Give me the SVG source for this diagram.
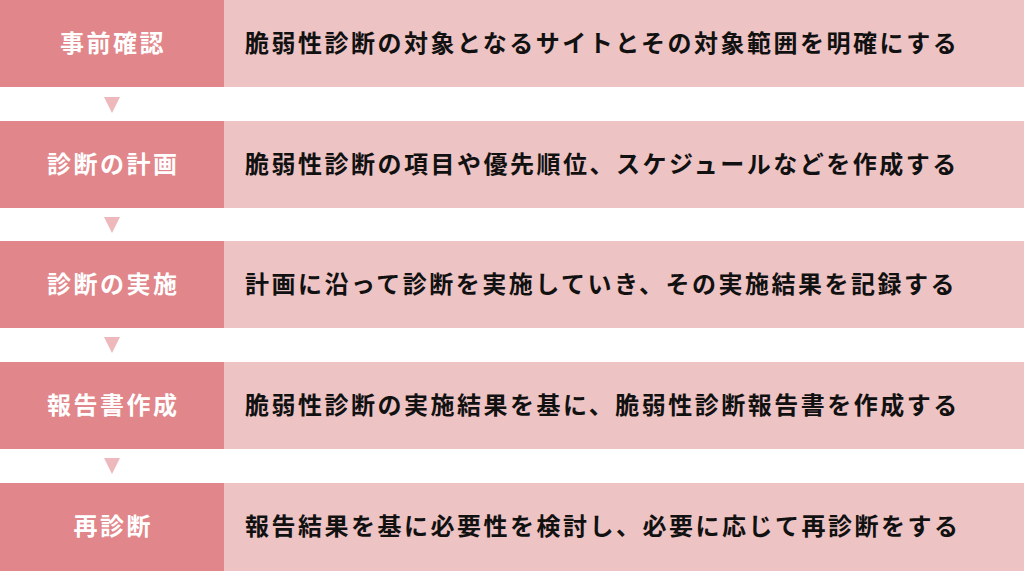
<svg xmlns="http://www.w3.org/2000/svg" width="1024" height="571" viewBox="0 0 1024 571">
<style>
.l{fill:#E1868A}
.r{fill:#EDC3C4}
.a{fill:#EDB9BC}
.lt{font-family:"Noto Sans CJK JP","Noto Sans CJK SC",sans-serif;font-size:24px;font-weight:bold;fill:#ffffff;letter-spacing:2.5px}
.rt{font-family:"Noto Sans CJK JP","Noto Sans CJK SC",sans-serif;font-size:24px;font-weight:bold;fill:#111111;letter-spacing:2.5px}
</style>
<rect width="1024" height="571" fill="#ffffff"/>
<g id="step1">
<rect class="l" x="0" y="0" width="224" height="87"/>
<rect class="r" x="224" y="0" width="800" height="87"/>
<text class="lt" x="60" y="52">事前確認</text>
<text class="rt" x="245" y="52">脆弱性診断の対象となるサイトとその対象範囲を明確にする</text>
</g>
<g id="step2">
<rect class="l" x="0" y="121" width="224" height="87"/>
<rect class="r" x="224" y="121" width="800" height="87"/>
<text class="lt" x="47" y="173">診断の計画</text>
<text class="rt" x="245" y="173">脆弱性診断の項目や優先順位、スケジュールなどを作成する</text>
</g>
<g id="step3">
<rect class="l" x="0" y="241" width="224" height="87"/>
<rect class="r" x="224" y="241" width="800" height="87"/>
<text class="lt" x="47" y="293">診断の実施</text>
<text class="rt" x="245" y="293">計画に沿って診断を実施していき、その実施結果を記録する</text>
</g>
<g id="step4">
<rect class="l" x="0" y="362" width="224" height="87"/>
<rect class="r" x="224" y="362" width="800" height="87"/>
<text class="lt" x="47" y="414">報告書作成</text>
<text class="rt" x="245" y="414">脆弱性診断の実施結果を基に、脆弱性診断報告書を作成する</text>
</g>
<g id="step5">
<rect class="l" x="0" y="483" width="224" height="88"/>
<rect class="r" x="224" y="483" width="800" height="88"/>
<text class="lt" x="73.5" y="535">再診断</text>
<text class="rt" x="245" y="535">報告結果を基に必要性を検討し、必要に応じて再診断をする</text>
</g>
<g id="connectors">
<polygon class="a" points="104,97 120,97 112,113"/>
<polygon class="a" points="104,217 120,217 112,233"/>
<polygon class="a" points="104,337 120,337 112,353"/>
<polygon class="a" points="104,458 120,458 112,474"/>
</g>
</svg>
